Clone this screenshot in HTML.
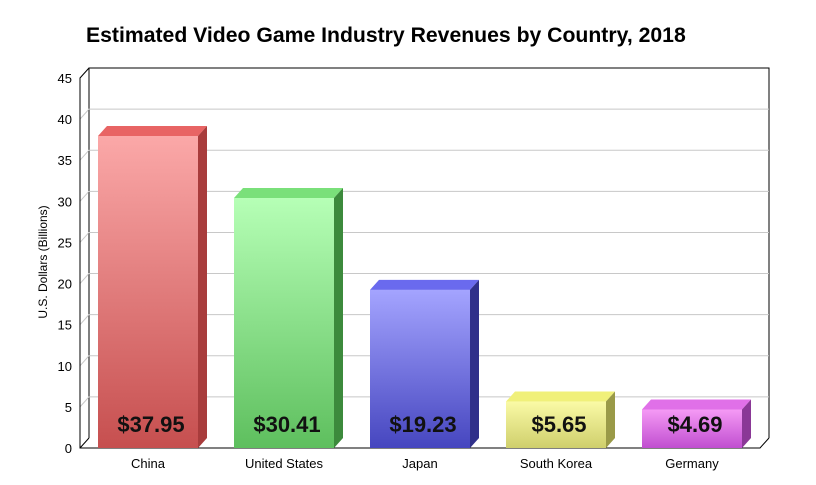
<!DOCTYPE html>
<html><head><meta charset="utf-8"><style>
body{margin:0;background:#fff;}
svg{display:block;font-family:"Liberation Sans",sans-serif;}
</style></head><body>
<svg id="chart" width="816" height="485">
<defs></defs>
<text x="86" y="42" font-size="21.2" font-weight="bold" fill="#000">Estimated Video Game Industry Revenues by Country, 2018</text>
<text transform="translate(47,262) rotate(-90)" text-anchor="middle" font-size="12" fill="#000">U.S. Dollars (Billions)</text>
<g id="grid"></g><g id="bars"></g><g id="labels"></g>
</svg>
<script>
const categories=["China","United States","Japan","South Korea","Germany"];
const values=[37.95,30.41,19.23,5.65,4.69];
const valueLabels=["$37.95","$30.41","$19.23","$5.65","$4.69"];
const ticks=[0,5,10,15,20,25,30,35,40,45];
const colors=[["#fba8a8","#c64f4f","#e86464","#a83c3c"],["#b6ffb6","#5ebf5e","#7ae07a","#3c8a3c"],["#a4a4ff","#4646bf","#6a6aee","#30308a"],["#fafaa6","#cfcf6c","#f0f07a","#9a9a48"],["#f59af5","#c04ed0","#e070e8","#8a3896"]];
const NS="http://www.w3.org/2000/svg";
const svg=document.getElementById('chart');
const x0=80,x1=760,y0=448,yTop=78,dx=9,dy=-10,maxV=45;
const y=v=>y0-(v/maxV)*(y0-yTop);
const band=(x1-x0)/categories.length;
function mk(tag,attrs,parent){const e=document.createElementNS(NS,tag);for(const k in attrs)e.setAttribute(k,attrs[k]);parent.appendChild(e);return e;}
const defs=svg.querySelector('defs');
const grid=document.getElementById('grid');
const wall=mk('path',{d:`M${x0+dx},${y(0)+dy} V${y(45)+dy} H${x1+dx} V${y(0)+dy}`,fill:'none',stroke:'#000','stroke-width':1},grid);


ticks.forEach(t=>{
  if(t>0&&t<45){const g=mk('path',{d:`M${x0},${y(t)} L${x0+dx},${y(t)+dy} H${x1+dx}`,fill:'none',stroke:'#c8c8c8'},grid);
  
  }
  const tl=mk('text',{x:x0-8,y:y(t)+5,'text-anchor':'end','font-size':13,fill:'#000'},grid);tl.textContent=t;
  
  
});
const ax=mk('path',{d:`M${x0+dx},${y(45)+dy} L${x0},${y(45)} V${y0} H${x1} L${x1+dx},${y0+dy} M${x0},${y0} L${x0+dx},${y0+dy}`,fill:'none',stroke:'#000'},grid);


const bars=document.getElementById('bars'),labels=document.getElementById('labels');
categories.forEach((c,i)=>{
  const cx=x0+band*(i+0.5),bw=100,bx=cx-bw/2,top=y(values[i]);
  const col=colors[i];
  const gr=mk('linearGradient',{id:'g'+i,x1:0,y1:0,x2:0,y2:1},defs);
  mk('stop',{offset:0,'stop-color':col[0]},gr);mk('stop',{offset:1,'stop-color':col[1]},gr);
  const g=mk('g',{},bars);
  
  
  mk('rect',{x:bx,y:top,width:bw,height:y0-top,fill:`url(#g${i})`},g);
  mk('path',{d:`M${bx},${top} L${bx+dx},${top+dy} H${bx+bw+dx} L${bx+bw},${top} Z`,fill:col[2]},g);
  mk('path',{d:`M${bx+bw},${top} L${bx+bw+dx},${top+dy} V${y0+dy} L${bx+bw},${y0} Z`,fill:col[3]},g);
  const vl=mk('text',{x:cx+3,y:432,'text-anchor':'middle','font-size':22,'font-weight':'bold',fill:'#111'},labels);vl.textContent=valueLabels[i];
  
  
  const cl=mk('text',{x:cx,y:468,'text-anchor':'middle','font-size':13,fill:'#000'},labels);cl.textContent=c;
  
  
});
</script>
</body></html>
